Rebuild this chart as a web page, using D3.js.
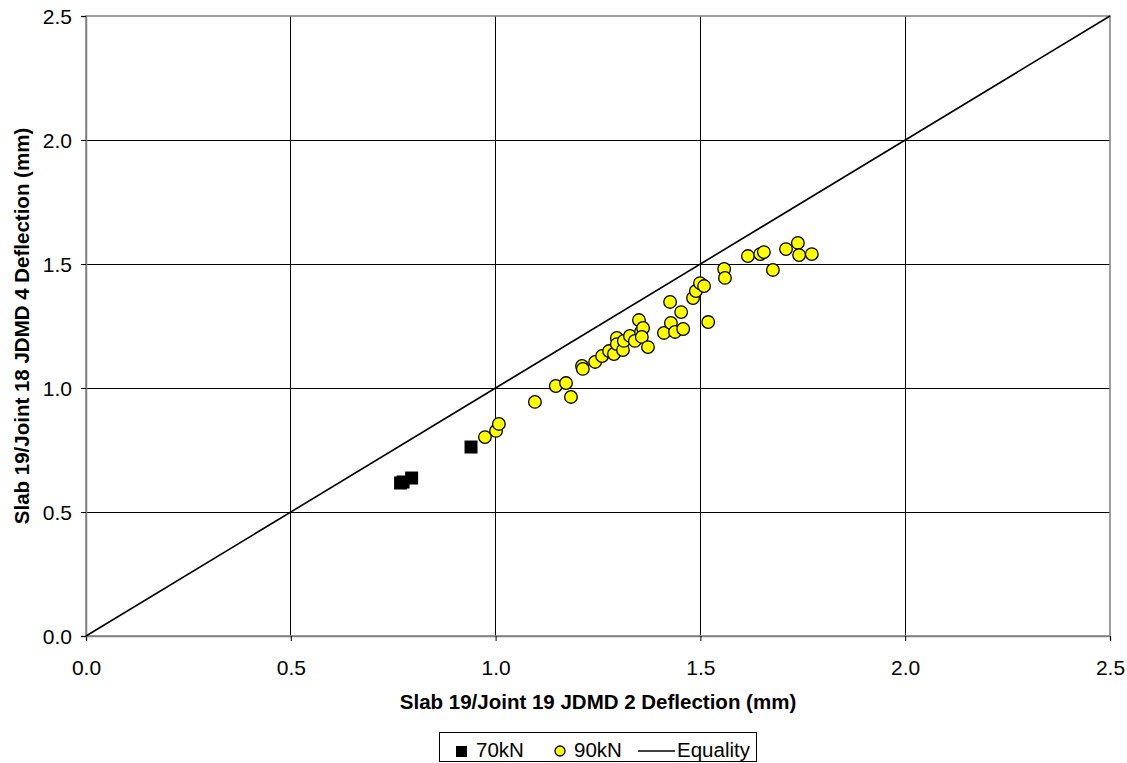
<!DOCTYPE html>
<html><head><meta charset="utf-8">
<script src="https://cdn.jsdelivr.net/npm/d3@7"></script>
<style>body{margin:0;background:#fff;} svg{display:block;font-family:"Liberation Sans",Arial,sans-serif;}</style>
</head><body>
<svg id="chart" width="1127" height="763"></svg>
<script>
const xTicks = [0.0, 0.5, 1.0, 1.5, 2.0, 2.5];
const yTicks = [0.0, 0.5, 1.0, 1.5, 2.0, 2.5];
const s70x = [0.768, 0.774, 0.795, 0.940];
const s70y = [0.617, 0.621, 0.637, 0.762];
const s90x = [0.974,1.001,1.008,1.096,1.147,1.172,1.184,1.211,1.213,1.243,1.260,1.277,1.289,1.296,1.296,1.311,1.313,1.328,1.340,1.350,1.355,1.360,1.357,1.372,1.411,1.426,1.428,1.438,1.453,1.458,1.482,1.489,1.499,1.509,1.519,1.558,1.560,1.616,1.646,1.655,1.677,1.709,1.738,1.741,1.772];
const s90y = [0.802,0.827,0.855,0.944,1.008,1.020,0.964,1.089,1.077,1.105,1.129,1.149,1.137,1.202,1.177,1.153,1.190,1.210,1.190,1.274,1.226,1.242,1.206,1.165,1.222,1.347,1.262,1.226,1.306,1.238,1.363,1.391,1.423,1.411,1.266,1.480,1.444,1.532,1.540,1.548,1.476,1.560,1.585,1.536,1.540];
const equality = [[0,0],[2.5,2.5]];
const xTitle = "Slab 19/Joint 19 JDMD 2 Deflection (mm)";
const yTitle = "Slab 19/Joint 18 JDMD 4 Deflection (mm)";
const legendLabels = ["70kN", "90kN", "Equality"];

const FONT = '"Liberation Sans",Arial,sans-serif';
const svg = d3.select("#chart");
const L = 86, R = 1110, T = 16, B = 636;
const x = d3.scaleLinear().domain([0, 2.5]).range([L, R]);
const y = d3.scaleLinear().domain([0, 2.5]).range([B, T]);

// gridlines
svg.append("g").selectAll("line").data(xTicks.slice(1, -1)).join("line")
  .attr("x1", d => x(d)).attr("x2", d => x(d)).attr("y1", T).attr("y2", B)
  .attr("stroke", "#000").attr("stroke-width", 1).attr("shape-rendering", "crispEdges");
svg.append("g").selectAll("line").data(yTicks.slice(1, -1)).join("line")
  .attr("x1", L).attr("x2", R).attr("y1", d => y(d)).attr("y2", d => y(d))
  .attr("stroke", "#000").attr("stroke-width", 1).attr("shape-rendering", "crispEdges");
// plot border
svg.append("rect").attr("x", L).attr("y", T).attr("width", R - L).attr("height", B - T)
  .attr("fill", "none").attr("stroke", "#808080").attr("stroke-width", 1.5);

// axes
const xAxis = svg.append("g").attr("transform", `translate(0,${B})`)
  .call(d3.axisBottom(x).tickValues(xTicks).tickFormat(d3.format(".1f")).tickSize(5).tickPadding(19));
const yAxis = svg.append("g").attr("transform", `translate(${L},0)`)
  .call(d3.axisLeft(y).tickValues(yTicks).tickFormat(d3.format(".1f")).tickSize(5).tickPadding(9));
[xAxis, yAxis].forEach(a => {
  a.attr("font-size", 21).attr("font-family", FONT);
  a.selectAll("path").attr("stroke", "#808080").attr("stroke-width", 1.5);
  a.selectAll("line").attr("stroke", "#000");
  a.selectAll("text").attr("fill", "#000");
});
yAxis.selectAll("text").attr("dy", "0.35em");

// equality line
svg.append("path").datum(equality)
  .attr("d", d3.line().x(d => x(d[0])).y(d => y(d[1])))
  .attr("stroke", "#000").attr("stroke-width", 1.6).attr("fill", "none");

// 70kN squares
const sq = 13;
svg.append("g").selectAll("rect").data(s70x.map((v, i) => [v, s70y[i]])).join("rect")
  .attr("x", d => x(d[0]) - sq / 2).attr("y", d => y(d[1]) - sq / 2)
  .attr("width", sq).attr("height", sq).attr("fill", "#000");

// 90kN circles
svg.append("g").selectAll("circle").data(s90x.map((v, i) => [v, s90y[i]])).join("circle")
  .attr("cx", d => x(d[0])).attr("cy", d => y(d[1])).attr("r", 6.3)
  .attr("fill", "#ffff00").attr("stroke", "#000").attr("stroke-width", 1.3);

// titles
svg.append("text").attr("x", (L + R) / 2).attr("y", 709).attr("text-anchor", "middle")
  .attr("font-size", 20.5).attr("font-weight", "bold").text(xTitle);
svg.append("text").attr("transform", `translate(29,${(T + B) / 2}) rotate(-90)`).attr("text-anchor", "middle")
  .attr("font-size", 20.5).attr("font-weight", "bold").text(yTitle);

// legend
const lg = svg.append("g").attr("font-size", 20.5);
lg.append("rect").attr("x", 439.5).attr("y", 732.5).attr("width", 317).attr("height", 29)
  .attr("fill", "#fff").attr("stroke", "#000").attr("stroke-width", 1);
lg.append("rect").attr("x", 456).attr("y", 746).attr("width", 11).attr("height", 11).attr("fill", "#000");
lg.append("text").attr("x", 476).attr("y", 757).text(legendLabels[0]);
lg.append("circle").attr("cx", 560).attr("cy", 751).attr("r", 5).attr("fill", "#ffff00").attr("stroke", "#000").attr("stroke-width", 1.3);
lg.append("text").attr("x", 574).attr("y", 757).text(legendLabels[1]);
lg.append("line").attr("x1", 638).attr("x2", 675).attr("y1", 751).attr("y2", 751).attr("stroke", "#000").attr("stroke-width", 1.3);
lg.append("text").attr("x", 677).attr("y", 757).text(legendLabels[2]);
</script>
</body></html>
